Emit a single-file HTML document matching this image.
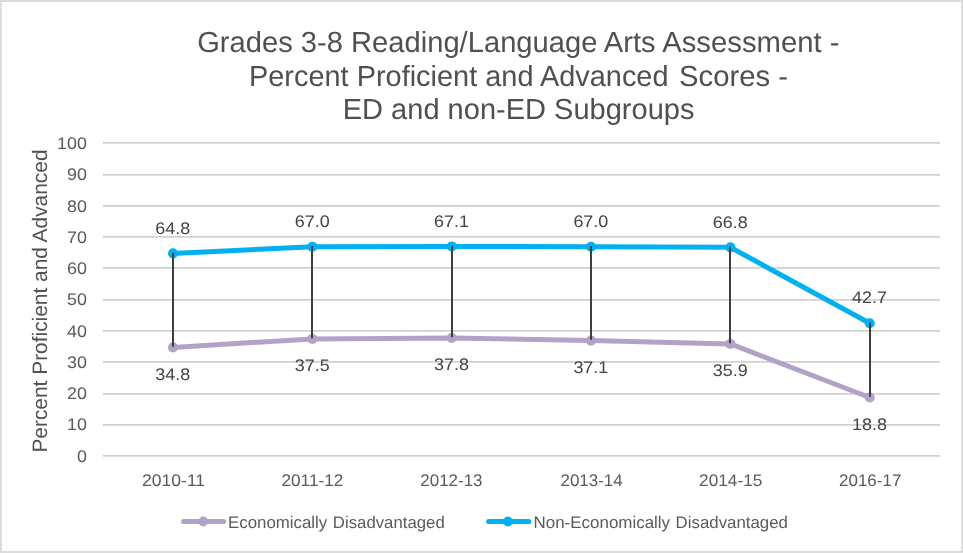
<!DOCTYPE html>
<html><head><meta charset="utf-8"><title>Chart</title>
<style>
html,body{margin:0;padding:0;background:#fff;}
body{width:963px;height:553px;overflow:hidden;}
svg{display:block;font-family:"Liberation Sans",sans-serif;will-change:transform;}
</style></head><body>
<svg width="963" height="553" viewBox="0 0 963 553">
<rect x="0" y="0" width="963" height="553" fill="#dcdcdc"/>
<rect x="2" y="2" width="959" height="549" fill="#ffffff"/>
<g shape-rendering="crispEdges">
<rect x="0" y="1" width="963" height="1" fill="#d8d8d8"/>
<rect x="1" y="2" width="1" height="549" fill="#e4e4e4"/>
<rect x="961" y="2" width="1" height="549" fill="#e4e4e4"/>
<rect x="2" y="551" width="959" height="1" fill="#e4e4e4"/>
<line x1="1.5" y1="4" x2="1.5" y2="551" stroke="#cecece" stroke-width="1" stroke-dasharray="1 3"/>
<line x1="961.5" y1="3" x2="961.5" y2="551" stroke="#cecece" stroke-width="1" stroke-dasharray="1 3"/>
<line x1="2" y1="551.5" x2="961" y2="551.5" stroke="#cecece" stroke-width="1" stroke-dasharray="1 1"/>
</g>
<g shape-rendering="crispEdges">
<rect x="103" y="455" width="837" height="1" fill="#d9d9d9"/><line x1="103" y1="455.5" x2="940" y2="455.5" stroke="#c8c8c8" stroke-width="1" stroke-dasharray="1 1"/><rect x="103" y="456" width="837" height="1" fill="#dddddd"/>
<rect x="103" y="424" width="837" height="1" fill="#d9d9d9"/><line x1="103" y1="424.5" x2="940" y2="424.5" stroke="#c8c8c8" stroke-width="1" stroke-dasharray="1 1"/><rect x="103" y="425" width="837" height="1" fill="#dddddd"/>
<rect x="103" y="393" width="837" height="1" fill="#d9d9d9"/><line x1="103" y1="393.5" x2="940" y2="393.5" stroke="#c8c8c8" stroke-width="1" stroke-dasharray="1 1"/><rect x="103" y="394" width="837" height="1" fill="#dddddd"/>
<rect x="103" y="361" width="837" height="1" fill="#d9d9d9"/><line x1="103" y1="361.5" x2="940" y2="361.5" stroke="#c8c8c8" stroke-width="1" stroke-dasharray="1 1"/><rect x="103" y="362" width="837" height="1" fill="#dddddd"/>
<rect x="103" y="330" width="837" height="1" fill="#d9d9d9"/><line x1="103" y1="330.5" x2="940" y2="330.5" stroke="#c8c8c8" stroke-width="1" stroke-dasharray="1 1"/><rect x="103" y="331" width="837" height="1" fill="#dddddd"/>
<rect x="103" y="299" width="837" height="1" fill="#d9d9d9"/><line x1="103" y1="299.5" x2="940" y2="299.5" stroke="#c8c8c8" stroke-width="1" stroke-dasharray="1 1"/><rect x="103" y="300" width="837" height="1" fill="#dddddd"/>
<rect x="103" y="267" width="837" height="1" fill="#d9d9d9"/><line x1="103" y1="267.5" x2="940" y2="267.5" stroke="#c8c8c8" stroke-width="1" stroke-dasharray="1 1"/><rect x="103" y="268" width="837" height="1" fill="#dddddd"/>
<rect x="103" y="236" width="837" height="1" fill="#d9d9d9"/><line x1="103" y1="236.5" x2="940" y2="236.5" stroke="#c8c8c8" stroke-width="1" stroke-dasharray="1 1"/><rect x="103" y="237" width="837" height="1" fill="#dddddd"/>
<rect x="103" y="205" width="837" height="1" fill="#d9d9d9"/><line x1="103" y1="205.5" x2="940" y2="205.5" stroke="#c8c8c8" stroke-width="1" stroke-dasharray="1 1"/><rect x="103" y="206" width="837" height="1" fill="#dddddd"/>
<rect x="103" y="174" width="837" height="1" fill="#d9d9d9"/><line x1="103" y1="174.5" x2="940" y2="174.5" stroke="#c8c8c8" stroke-width="1" stroke-dasharray="1 1"/><rect x="103" y="175" width="837" height="1" fill="#dddddd"/>
<rect x="103" y="142" width="837" height="1" fill="#d9d9d9"/><line x1="103" y1="142.5" x2="940" y2="142.5" stroke="#c8c8c8" stroke-width="1" stroke-dasharray="1 1"/><rect x="103" y="143" width="837" height="1" fill="#dddddd"/>
</g>
<g font-size="16.8" fill="#5a5a5a" text-anchor="end">
<text transform="translate(86.90,461.70) scale(1.066,1) skewX(0.03)">0</text>
<text transform="translate(86.90,430.44) scale(1.066,1) skewX(0.03)">10</text>
<text transform="translate(86.90,399.18) scale(1.066,1) skewX(0.03)">20</text>
<text transform="translate(86.90,367.92) scale(1.066,1) skewX(0.03)">30</text>
<text transform="translate(86.90,336.66) scale(1.066,1) skewX(0.03)">40</text>
<text transform="translate(86.90,305.40) scale(1.066,1) skewX(0.03)">50</text>
<text transform="translate(86.90,274.14) scale(1.066,1) skewX(0.03)">60</text>
<text transform="translate(86.90,242.88) scale(1.066,1) skewX(0.03)">70</text>
<text transform="translate(86.90,211.62) scale(1.066,1) skewX(0.03)">80</text>
<text transform="translate(86.90,180.36) scale(1.066,1) skewX(0.03)">90</text>
<text transform="translate(86.90,149.10) scale(1.066,1) skewX(0.03)">100</text>
</g>
<g font-size="16.8" fill="#5a5a5a" text-anchor="middle">
<text transform="translate(173.60,486.20) scale(1.0434,1) skewX(0.03)">2010-11</text>
<text transform="translate(312.40,486.20) scale(1.0266,1) skewX(0.03)">2011-12</text>
<text transform="translate(451.40,486.20) scale(1.0103,1) skewX(0.03)">2012-13</text>
<text transform="translate(591.60,486.20) scale(1.0103,1) skewX(0.03)">2013-14</text>
<text transform="translate(730.70,486.20) scale(1.0266,1) skewX(0.03)">2014-15</text>
<text transform="translate(870.20,486.20) scale(1.0103,1) skewX(0.03)">2016-17</text>
</g>
<g font-size="29.15" fill="#505050">
<text transform="translate(197.20,52.00) skewX(0.03)">Grades 3-8 Reading/Language Arts</text>
<text transform="translate(662.20,52.00) skewX(0.03)" textLength="177.3" lengthAdjust="spacingAndGlyphs">Assessment -</text>
<text transform="translate(249.00,85.70) skewX(0.03)" textLength="419.5" lengthAdjust="spacingAndGlyphs">Percent Proficient and Advanced</text>
<text transform="translate(679.00,85.70) skewX(0.03)" textLength="109.0" lengthAdjust="spacingAndGlyphs">Scores -</text>
<text transform="translate(342.70,119.40) skewX(0.03)" textLength="351.8" lengthAdjust="spacingAndGlyphs">ED and non-ED Subgroups</text>
</g>
<text transform="translate(47.40,452.60) rotate(-90) skewX(0.03)" font-size="20.9" fill="#525252">Percent Proficient and Advanced</text>
<polyline points="173.00,347.38 312.35,338.93 451.70,337.99 591.05,340.58 730.40,343.93 869.75,397.46" fill="none" stroke="#b3a2c7" stroke-width="5" stroke-linejoin="round" stroke-linecap="round"/>
<circle cx="173.00" cy="347.38" r="5.05" fill="#b3a2c7"/>
<circle cx="312.35" cy="338.93" r="5.05" fill="#b3a2c7"/>
<circle cx="451.70" cy="337.99" r="5.05" fill="#b3a2c7"/>
<circle cx="591.05" cy="340.58" r="5.05" fill="#b3a2c7"/>
<circle cx="730.40" cy="343.93" r="5.05" fill="#b3a2c7"/>
<circle cx="869.75" cy="397.46" r="5.05" fill="#b3a2c7"/>
<polyline points="173.00,253.38 312.35,246.74 451.70,246.43 591.05,246.74 730.40,247.37 869.75,323.20" fill="none" stroke="#00b0f0" stroke-width="5" stroke-linejoin="round" stroke-linecap="round"/>
<circle cx="173.00" cy="253.38" r="5.05" fill="#00b0f0"/>
<circle cx="312.35" cy="246.74" r="5.05" fill="#00b0f0"/>
<circle cx="451.70" cy="246.43" r="5.05" fill="#00b0f0"/>
<circle cx="591.05" cy="246.74" r="5.05" fill="#00b0f0"/>
<circle cx="730.40" cy="247.37" r="5.05" fill="#00b0f0"/>
<circle cx="869.75" cy="323.20" r="5.05" fill="#00b0f0"/>
<g stroke="#3e3e3e" stroke-width="2">
<line x1="173" y1="252.63" x2="173" y2="346.63"/>
<line x1="312" y1="245.99" x2="312" y2="338.18"/>
<line x1="452" y1="245.68" x2="452" y2="337.24"/>
<line x1="591" y1="245.99" x2="591" y2="339.83"/>
<line x1="730" y1="246.62" x2="730" y2="343.18"/>
<line x1="870" y1="322.45" x2="870" y2="396.71"/>
</g>
<g font-size="16.8" fill="#434343" text-anchor="middle">
<text transform="translate(172.80,234.08) scale(1.07,1) skewX(0.03)">64.8</text>
<text transform="translate(172.80,379.58) scale(1.07,1) skewX(0.03)">34.8</text>
<text transform="translate(312.15,227.19) scale(1.07,1) skewX(0.03)">67.0</text>
<text transform="translate(312.15,371.12) scale(1.07,1) skewX(0.03)">37.5</text>
<text transform="translate(451.50,226.88) scale(1.07,1) skewX(0.03)">67.1</text>
<text transform="translate(451.50,370.19) scale(1.07,1) skewX(0.03)">37.8</text>
<text transform="translate(590.85,227.19) scale(1.07,1) skewX(0.03)">67.0</text>
<text transform="translate(590.85,373.28) scale(1.07,1) skewX(0.03)">37.1</text>
<text transform="translate(730.20,227.82) scale(1.07,1) skewX(0.03)">66.8</text>
<text transform="translate(730.20,376.13) scale(1.07,1) skewX(0.03)">35.9</text>
<text transform="translate(869.55,303.25) scale(1.07,1) skewX(0.03)">42.7</text>
<text transform="translate(869.55,429.66) scale(1.07,1) skewX(0.03)">18.8</text>
</g>
<line x1="183.7" y1="521.5" x2="223.5" y2="521.5" stroke="#b3a2c7" stroke-width="5.2" stroke-linecap="round"/>
<circle cx="203.2" cy="521.5" r="4.9" fill="#b3a2c7"/>
<line x1="488.7" y1="521.5" x2="528.6" y2="521.5" stroke="#00b0f0" stroke-width="5.2" stroke-linecap="round"/>
<circle cx="507.9" cy="521.5" r="4.9" fill="#00b0f0"/>
<g font-size="16.8" fill="#5a5a5a">
<text transform="translate(228.00,527.70) skewX(0.03)" textLength="99.2" lengthAdjust="spacingAndGlyphs">Economically</text>
<text transform="translate(332.80,527.70) skewX(0.03)" textLength="112" lengthAdjust="spacingAndGlyphs">Disadvantaged</text>
<text transform="translate(533.50,527.70) skewX(0.03)" textLength="136.6" lengthAdjust="spacingAndGlyphs">Non-Economically</text>
<text transform="translate(675.60,527.70) skewX(0.03)" textLength="112.3" lengthAdjust="spacingAndGlyphs">Disadvantaged</text>
</g>
</svg>
</body></html>
